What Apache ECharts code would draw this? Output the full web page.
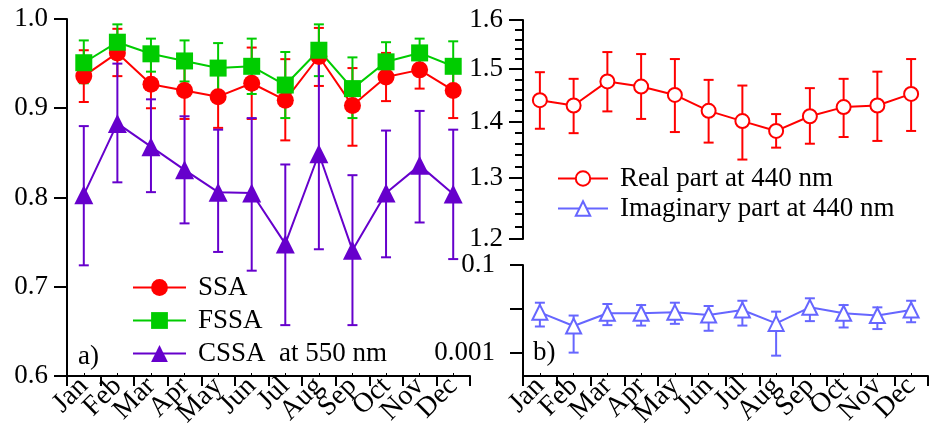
<!DOCTYPE html>
<html>
<head>
<meta charset="utf-8">
<script src="https://cdn.jsdelivr.net/npm/echarts@6/dist/echarts.min.js"></script>
<style>
  html, body { margin: 0; padding: 0; background: #fff; }
  #chart { width: 929px; height: 436px; }
</style>
</head>
<body>
<div id="chart"></div>
<script>
const months = ['Jan', 'Feb', 'Mar', 'Apr', 'May', 'Jun', 'Jul', 'Aug', 'Sep', 'Oct', 'Nov', 'Dec'];

// a) single scattering albedo at 550 nm
const ssa     = [0.936, 0.962, 0.927, 0.920, 0.913, 0.928, 0.909, 0.958, 0.903, 0.935, 0.943, 0.920];
const ssaLow  = [0.907, 0.936, 0.900, 0.888, 0.878, 0.888, 0.864, 0.925, 0.858, 0.908, 0.922, 0.889];
const ssaHigh = [0.965, 0.989, 0.954, 0.952, 0.948, 0.968, 0.955, 0.990, 0.945, 0.962, 0.962, 0.951];

const fssa     = [0.951, 0.974, 0.961, 0.953, 0.945, 0.947, 0.926, 0.965, 0.922, 0.952, 0.962, 0.947];
const fssaLow  = [0.928, 0.955, 0.941, 0.930, 0.917, 0.916, 0.889, 0.936, 0.889, 0.931, 0.943, 0.920];
const fssaHigh = [0.976, 0.994, 0.978, 0.976, 0.973, 0.978, 0.963, 0.994, 0.957, 0.974, 0.978, 0.975];

const cssa     = [0.803, 0.883, 0.857, 0.831, 0.806, 0.805, 0.748, 0.849, 0.741, 0.805, 0.836, 0.804];
const cssaLow  = [0.724, 0.817, 0.806, 0.771, 0.739, 0.718, 0.657, 0.742, 0.657, 0.733, 0.772, 0.731];
const cssaHigh = [0.880, 0.950, 0.910, 0.891, 0.876, 0.889, 0.837, 0.954, 0.825, 0.875, 0.897, 0.876];

// b) refractive index at 440 nm
const real     = [1.440, 1.430, 1.476, 1.466, 1.450, 1.420, 1.401, 1.383, 1.410, 1.427, 1.430, 1.452];
const realLow  = [1.387, 1.379, 1.419, 1.405, 1.381, 1.362, 1.332, 1.353, 1.360, 1.372, 1.365, 1.383];
const realHigh = [1.494, 1.481, 1.534, 1.530, 1.520, 1.479, 1.468, 1.414, 1.463, 1.481, 1.495, 1.520];

const imag     = [0.0084, 0.0041, 0.0080, 0.0080, 0.0084, 0.0073, 0.0095, 0.0047, 0.0109, 0.0080, 0.0071, 0.0095];
const imagLow  = [0.0040, 0.00102, 0.0043, 0.0042, 0.0046, 0.0032, 0.0042, 0.00087, 0.0053, 0.0038, 0.0035, 0.0050];
const imagHigh = [0.0139, 0.0071, 0.0130, 0.0123, 0.0139, 0.0117, 0.0154, 0.0087, 0.0175, 0.0123, 0.0109, 0.0154];

// tick values
const realTicks = [1.2, 1.3, 1.4, 1.5, 1.6];
const realMinorTicks = [1.2, 1.22, 1.24, 1.26, 1.28, 1.3, 1.32, 1.34, 1.36, 1.38, 1.4,
                        1.42, 1.44, 1.46, 1.48, 1.5, 1.52, 1.54, 1.56, 1.58, 1.6];
const imagTicks = [0.001, 0.01, 0.1];
const imagLabels = [0.001, 0.1];

const FONT = 'Liberation Serif';
const RED = '#ff0000', GREEN = '#00cc00', PURPLE = '#6600cc', BLUE = '#6666ff';

const chart = echarts.init(document.getElementById('chart'));

function errData(low, high) {
  return low.map((v, i) => [i, v, high[i]]);
}

function errorBars(color) {
  return function (params, api) {
    const x = api.value(0);
    const lo = api.coord([x, api.value(1)]);
    const hi = api.coord([x, api.value(2)]);
    const w = 5;
    const style = { stroke: color, lineWidth: 2, fill: null };
    return {
      type: 'group',
      children: [
        { type: 'line', shape: { x1: lo[0], y1: lo[1], x2: hi[0], y2: hi[1] }, style },
        { type: 'line', shape: { x1: lo[0] - w, y1: lo[1], x2: lo[0] + w, y2: lo[1] }, style },
        { type: 'line', shape: { x1: hi[0] - w, y1: hi[1], x2: hi[0] + w, y2: hi[1] }, style },
      ],
    };
  };
}

const blackLine = { color: '#000', width: 2 };
const labelText = { color: '#000', fontFamily: FONT, fontSize: 27 };

function monthAxis(grid) {
  return {
    gridIndex: grid,
    type: 'category',
    data: months,
    boundaryGap: true,
    axisLine: { show: true, lineStyle: blackLine },
    axisTick: { show: true, length: 10, lineStyle: blackLine },
    axisLabel: { ...labelText, fontSize: 28, rotate: 45, interval: 0, margin: 6 },
    splitLine: { show: false },
  };
}

function monthMinorAxis(grid) {
  return {
    gridIndex: grid,
    type: 'category',
    data: months,
    position: 'bottom',
    axisLine: { show: false },
    axisTick: { show: true, alignWithLabel: true, inside: true, length: 3, lineStyle: { color: '#000', width: 1 } },
    axisLabel: { show: false },
    splitLine: { show: false },
  };
}

function lineSeries(name, data, color, symbol, size, x, y, extra) {
  return {
    name,
    type: 'line',
    xAxisIndex: x,
    yAxisIndex: y,
    data,
    symbol,
    symbolSize: size,
    lineStyle: { color, width: 2 },
    itemStyle: { color, ...(extra || {}) },
    emphasis: { disabled: true },
  };
}

function errSeries(low, high, color, x, y) {
  return {
    type: 'custom',
    xAxisIndex: x,
    yAxisIndex: y,
    data: errData(low, high),
    encode: { x: 0, y: [1, 2] },
    renderItem: errorBars(color),
    silent: true,
  };
}

// one legend per entry so the rows sit where the reference has them
function legendItem(name, left, top, w, h, pad) {
  return {
    data: [name],
    left, top,
    padding: 0,
    itemWidth: w, itemHeight: h,
    textStyle: { ...labelText, padding: [0, 0, 0, pad] },
    selectedMode: false,
  };
}

const option = {
  animation: false,
  backgroundColor: '#fff',
  grid: [
    { left: 67, top: 19, width: 403, height: 357 },
    { left: 523, top: 20, width: 405, height: 219 },
    { left: 523, top: 265, width: 405, height: 111 },
  ],
  xAxis: [
    monthAxis(0),
    monthMinorAxis(0),
    { gridIndex: 1, type: 'category', data: months, show: false },
    monthAxis(2),
    monthMinorAxis(2),
  ],
  yAxis: [
    {
      gridIndex: 0, type: 'value', min: 0.6, max: 1.0, interval: 0.1,
      axisLine: { show: true, lineStyle: blackLine },
      axisTick: { show: true, length: 13, lineStyle: blackLine },
      axisLabel: { ...labelText, margin: 19, formatter: (v) => v.toFixed(1) },
      splitLine: { show: false },
    },
    {
      gridIndex: 1, type: 'log', min: 1.2, max: 1.6, position: 'left',
      axisLine: { show: true, lineStyle: blackLine },
      axisTick: { show: true, length: 14, customValues: realTicks, lineStyle: blackLine },
      axisLabel: { ...labelText, margin: 20, customValues: realTicks, formatter: (v) => Number(v).toFixed(1) },
      splitLine: { show: false },
    },
    {
      gridIndex: 1, type: 'log', min: 1.2, max: 1.6, position: 'left', offset: 0,
      axisLine: { show: false },
      axisTick: { show: true, length: 8, customValues: realMinorTicks, lineStyle: blackLine },
      axisLabel: { show: false },
      splitLine: { show: false },
    },
    {
      gridIndex: 2, type: 'log', min: 0.0003, max: 0.1, position: 'left',
      axisLine: { show: true, lineStyle: blackLine },
      axisTick: { show: true, length: 13, customValues: imagTicks, lineStyle: blackLine },
      axisLabel: { ...labelText, margin: 28, customValues: imagLabels, formatter: (v) => String(Number(v)) },
      splitLine: { show: false },
    },
  ],
  legend: [
    legendItem('SSA', 132, 274, 53, 21, 7),
    legendItem('FSSA', 132, 307, 53, 21, 7),
    legendItem('CSSA  at 550 nm', 132, 340, 53, 21, 7),
    legendItem('Real part at 440 nm', 557, 165, 50, 18, 7),
    legendItem('Imaginary part at 440 nm', 557, 195, 50, 18, 7),
  ],
  graphic: [
    { type: 'text', left: 78, top: 343, style: { text: 'a)', font: '27px "Liberation Serif"', fill: '#000' } },
    { type: 'text', left: 533, top: 339, style: { text: 'b)', font: '27px "Liberation Serif"', fill: '#000' } },
  ],
  series: [
    errSeries(ssaLow, ssaHigh, RED, 0, 0),
    lineSeries('SSA', ssa, RED, 'circle', 17, 0, 0),
    errSeries(fssaLow, fssaHigh, GREEN, 0, 0),
    lineSeries('FSSA', fssa, GREEN, 'rect', 17, 0, 0),
    errSeries(cssaLow, cssaHigh, PURPLE, 0, 0),
    lineSeries('CSSA  at 550 nm', cssa, PURPLE, 'triangle', 19, 0, 0),

    errSeries(realLow, realHigh, RED, 2, 1),
    lineSeries('Real part at 440 nm', real, RED, 'emptyCircle', 14, 2, 1, { borderWidth: 3 }),
    errSeries(imagLow, imagHigh, BLUE, 3, 3),
    lineSeries('Imaginary part at 440 nm', imag, BLUE, 'emptyTriangle', 15, 3, 3, { borderWidth: 3 }),
  ],
};

chart.setOption(option);
</script>
</body>
</html>
